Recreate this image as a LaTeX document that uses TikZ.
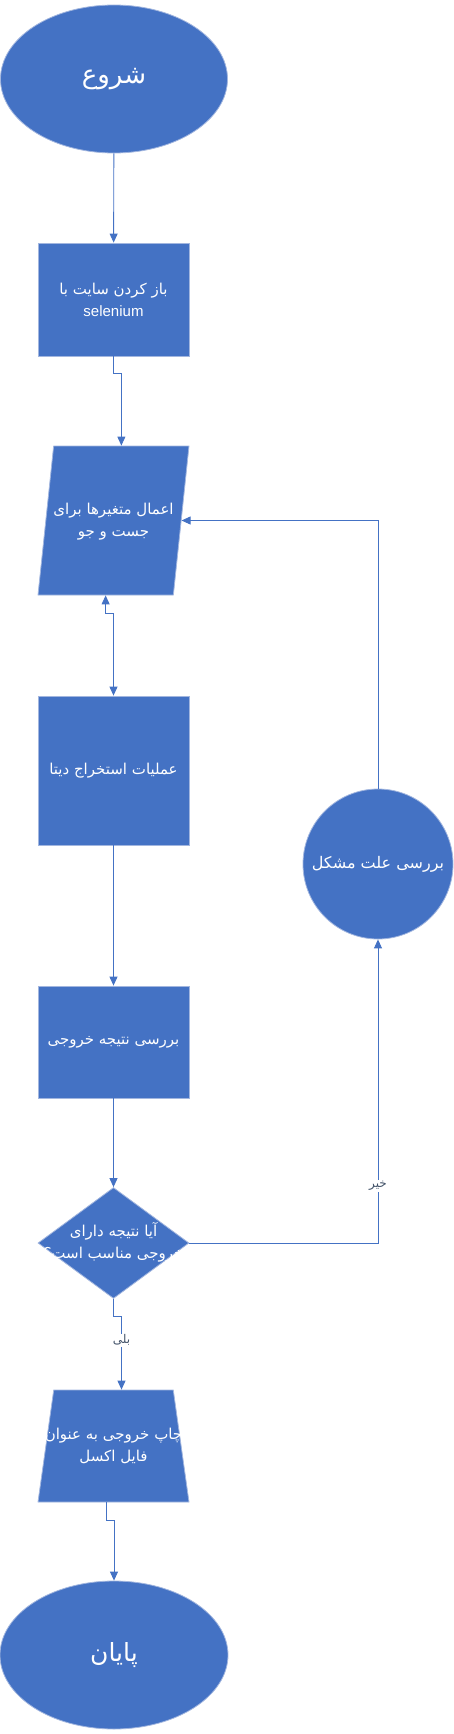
\documentclass[tikz,border=0pt]{standalone}
\usepackage{fontspec}
\setmainfont{Liberation Sans}
\newfontfamily\arabicfont[Script=Arabic]{DejaVu Sans}
\TeXXeTstate=1
\usetikzlibrary{arrows.meta,shapes.geometric,calc}
\definecolor{flowblue}{HTML}{4472C4}
\definecolor{flowedge}{HTML}{A2B6DF}
\definecolor{labelgray}{HTML}{44546A}
\newcommand{\fa}[1]{{\arabicfont\beginR #1\endR}}
% text that takes no room, so the shape keeps its own size
\newcommand{\zerotext}[1]{\smash{\makebox[0pt]{\raisebox{-0.25em}{\begin{tabular}{@{}c@{}}#1\end{tabular}}}}}

\tikzset{
	block/.style={fill=flowblue, draw=flowedge, line width=0.8pt, text=white, align=center, inner sep=0pt},
	boxtxt/.style={font=\fontsize{15}{22}\selectfont},
	conn/.style={draw=flowblue, line width=0.9pt, -{Triangle[length=9pt,width=8pt]}},
	lbl/.style={fill=white, text=labelgray, inner sep=1pt, font=\fontsize{12}{14}\selectfont}
}

\begin{document}
\begin{tikzpicture}[x=1pt, y=-1pt]
			%%%%% START %%%%%
			\useasboundingbox (0,0) rectangle (454,1734);
			
			\node[block, ellipse, minimum width=227pt, minimum height=148pt, font=\fontsize{26}{30}\selectfont] (start) at (114,79) {\fa{شروع}};
			
			\node[block, boxtxt, minimum width=151pt, minimum height=113pt] (open) at (113.5,299.5) {\fa{باز کردن سایت با}\\selenium};
			
			\node[block, boxtxt, trapezium, trapezium left angle=84, trapezium right angle=96, trapezium stretches body, inner xsep=0pt, inner ysep=74.5pt, minimum width=151pt] (vars) at (113.5,520.5) {\zerotext{\fa{اعمال متغیرها برای}\\\fa{جست و جو}}};
			
			\node[block, boxtxt, minimum width=151pt, minimum height=149pt] (extract) at (113.5,770.5) {\fa{عملیات استخراج دیتا}};
			
			\node[block, boxtxt, minimum width=151pt, minimum height=112pt] (check) at (113.5,1042) {\fa{بررسی نتیجه خروجی}};
			
			\node[block, boxtxt, diamond, minimum width=151pt, minimum height=111pt] (ask) at (113.5,1243) {\zerotext{\fa{آیا نتیجه دارای}\\\fa{خروجی مناسب است؟}}};
			
			\node[block, boxtxt, trapezium, trapezium left angle=82, trapezium right angle=82, trapezium stretches body, inner xsep=0pt, inner ysep=56pt, minimum width=151pt] (print) at (113.5,1446) {\zerotext{\fa{چاپ خروجی به عنوان}\\\fa{فایل اکسل}}};
			
			\node[block, ellipse, minimum width=228pt, minimum height=148pt, font=\fontsize{25}{30}\selectfont] (finish) at (114,1655) {\fa{پایان}};
			
			\node[block, circle, minimum size=150pt, font=\fontsize{16}{19}\selectfont] (cause) at (378,864) {\fa{بررسی علت مشکل}};
			
			% connectors
			\draw[conn] (start) -- (open);
			\draw[conn] (open.south) -- ++(0,17) -| (vars.top side);
			\draw[conn, {Triangle[length=9pt,width=8pt]}-{Triangle[length=9pt,width=8pt]}] (vars.bottom side) -- ++(0,18) -| (extract.north);
			\draw[conn] (extract) -- (check);
			\draw[conn] (check) -- (ask);
			\draw[conn] (ask.south) -- ++(0,18) -| ([xshift=8pt]print.top side) node[lbl, pos=0.66] {\fa{بلی}};
			\draw[conn] ([xshift=-7pt]print.bottom side) -- ++(0,18) -| (finish.north);
			\draw[conn] (ask.east) -| (cause.south) node[lbl, pos=0.594] {\fa{خیر}};
			\draw[conn] (cause.north) |- (vars.right side);
			
			%%%%% END %%%%%
\end{tikzpicture}
\end{document}
